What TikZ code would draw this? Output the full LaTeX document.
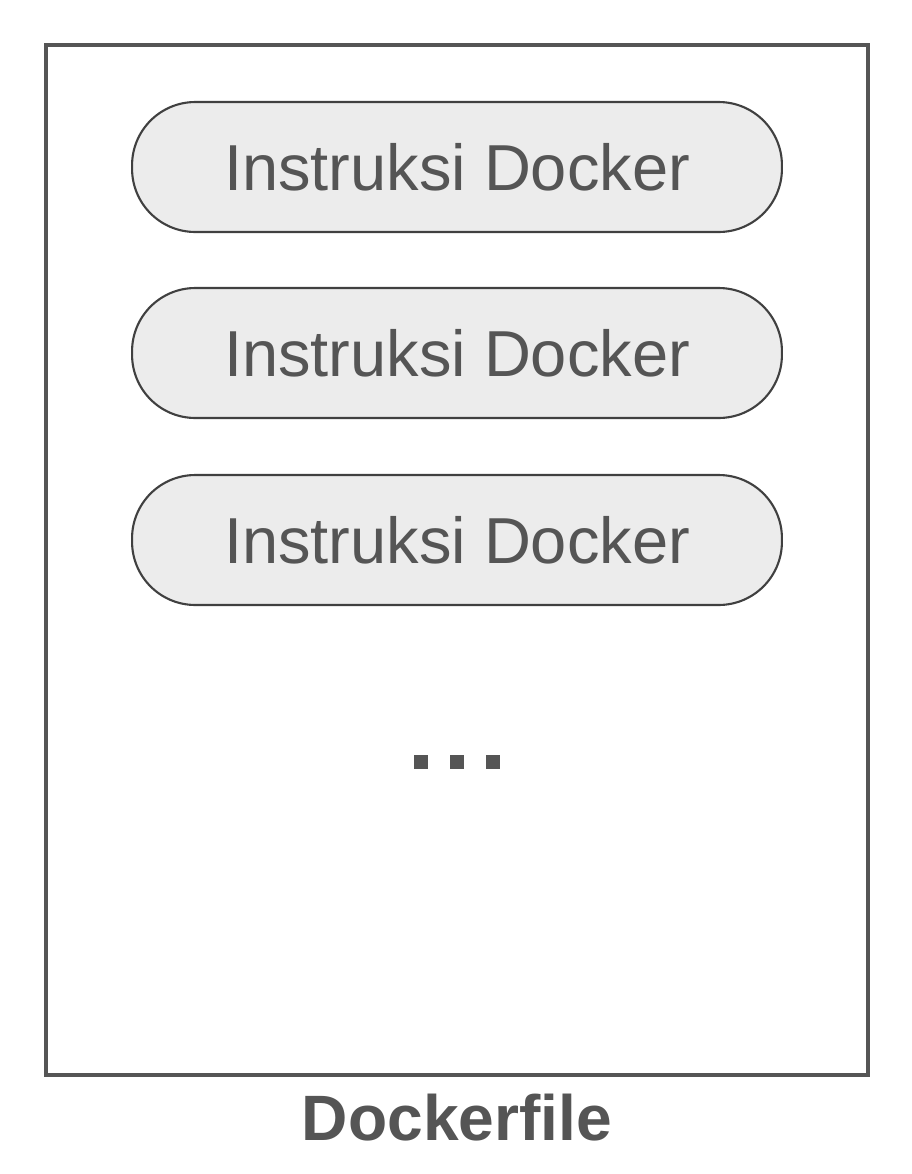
\documentclass[tikz,border=0pt]{standalone}
\usepackage{fontspec}
\setmainfont{Liberation Sans}
\definecolor{txtgray}{HTML}{555555}
\definecolor{pillfill}{HTML}{ECECEC}
\tikzset{
  instr/.style={draw=black!75, line width=1.2pt, fill=pillfill, rounded corners=36pt,
    minimum width=13cm, minimum height=2.6cm, text=txtgray,
    font=\fontsize{37}{44}\selectfont},
  dot/.style={fill=txtgray, minimum size=0.28cm, inner sep=0pt}
}
\begin{document}
\begin{tikzpicture}[x=0.02cm, y=-0.02cm]
\useasboundingbox (0,0) rectangle (912,1174);
\draw[color=txtgray, line width=2.3pt] (46,45) rectangle (868,1075);

\node[instr] (i1) at (457,167) {Instruksi Docker};
\node[instr] (i2) at (457,353) {Instruksi Docker};
\node[instr] (i3) at (457,540) {Instruksi Docker};

\node[dot] (d1) at (421,762) {};
\node[dot] (d2) at (457,762) {};
\node[dot] (d3) at (493,762) {};

\node[text=txtgray, font=\fontsize{36.5}{44}\selectfont\bfseries] (df) at (457,1118) {Dockerfile};
\end{tikzpicture}
\end{document}
